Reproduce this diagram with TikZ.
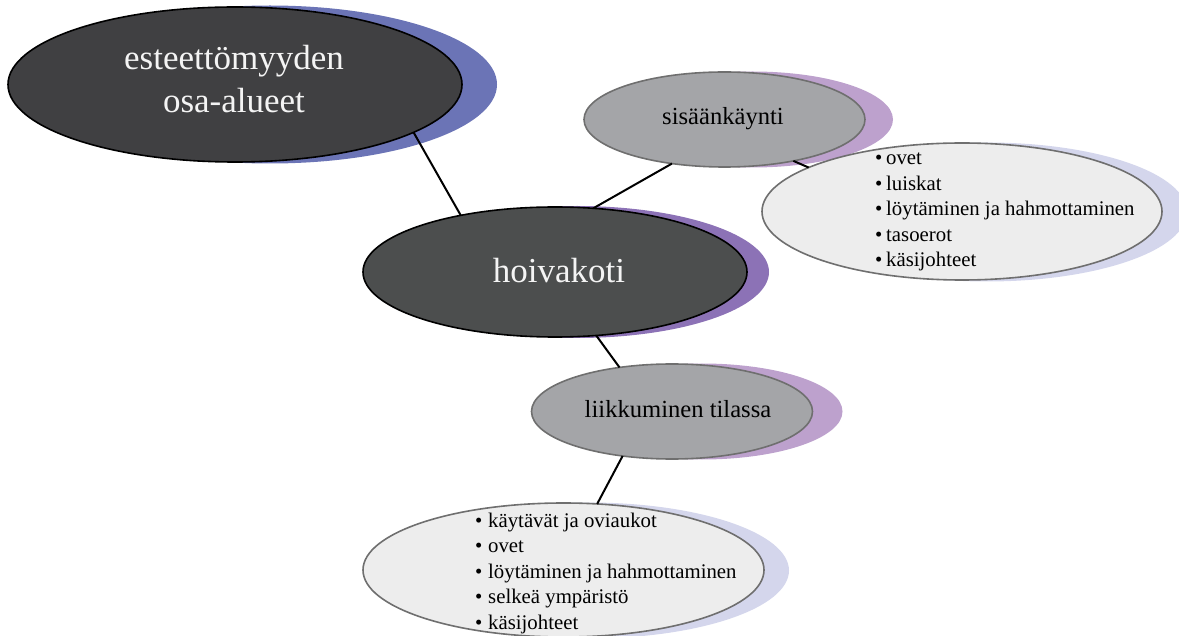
\documentclass[tikz,border=0pt]{standalone}
\usepackage{fontspec}
\setmainfont{Liberation Serif}
\usetikzlibrary{shapes.geometric}
\definecolor{darkA}{HTML}{404042}
\definecolor{darkB}{HTML}{4C4E4E}
\definecolor{midgrey}{HTML}{A4A5A8}
\definecolor{lightgrey}{HTML}{EDEDED}
\definecolor{bordergrey}{HTML}{6F6F6F}
\definecolor{blueS}{HTML}{6B74B6}
\definecolor{purpleS}{HTML}{8C72B6}
\definecolor{lilacS}{HTML}{BDA1CD}
\definecolor{paleS}{HTML}{D4D6EC}
\definecolor{whitetext}{HTML}{F4F4F4}
\begin{document}
\begin{tikzpicture}[x=1pt,y=-1pt,
  ell/.style={ellipse, inner sep=0pt, outer sep=0pt},
  shad/.style={ell, draw=none},
  darkell/.style={ell, draw=black, line width=1.6pt},
  greyell/.style={ell, draw=bordergrey, line width=1.6pt, fill=midgrey},
  lightell/.style={ell, draw=bordergrey, line width=1.6pt, fill=lightgrey},
  conn/.style={draw=black, line width=2pt},
  bigtext/.style={anchor=base, inner sep=0pt, text=whitetext, font=\fontsize{35}{43}\selectfont, align=center},
  midtext/.style={anchor=base, inner sep=0pt, text=black, font=\fontsize{24.6}{30}\selectfont},
  listtext/.style={anchor=base west, inner sep=0pt, text=black, font=\fontsize{20.8}{25.5}\selectfont, align=left}
]
\useasboundingbox (0,0) rectangle (1179,636);
% shadows
\node[shad, fill=blueS, minimum width=454pt, minimum height=158pt] (topS) at (270,84.5) {};
\node[shad, fill=purpleS, minimum width=384pt, minimum height=132pt] (hoivS) at (577,272) {};
\node[shad, fill=lilacS, minimum width=281pt, minimum height=96pt] (sisS) at (752.5,119.5) {};
\node[shad, fill=paleS, minimum width=400pt, minimum height=139pt] (bulAS) at (987,212) {};
\node[shad, fill=lilacS, minimum width=281pt, minimum height=96pt] (liikS) at (702,411.5) {};
\node[shad, fill=paleS, minimum width=401pt, minimum height=136pt] (bulBS) at (588.5,570.5) {};
% main ellipses
\node[darkell, fill=darkA, minimum width=454pt, minimum height=155pt] (top) at (235,84.5) {};
\node[darkell, fill=darkB, minimum width=384pt, minimum height=130pt] (hoiv) at (555,272) {};
\node[greyell, minimum width=281pt, minimum height=95pt] (sis) at (724.5,119.5) {};
\node[lightell, minimum width=400pt, minimum height=137pt] (bulA) at (962,211.5) {};
\node[greyell, minimum width=281pt, minimum height=95pt] (liik) at (672,411.5) {};
\node[lightell, minimum width=401pt, minimum height=134pt] (bulB) at (563.5,570) {};
% connectors
\draw[conn] (top.-15) -- (hoiv.149);
\draw[conn] (hoiv.59) -- (sis.220);
\draw[conn] (sis.-31) -- (bulA.164);
\draw[conn] (hoiv.-57) -- (liik.140);
\draw[conn] (liik.222) -- (bulB.63);
% texts (anchor base = baseline of the last line)
\node[bigtext] (topT) at (234,113) {esteettömyyden\\osa-alueet};
\node[bigtext] (hoivT) at (559,283) {hoivakoti};
\node[midtext] (sisT) at (723,125) {sisäänkäynti};
\node[midtext] (liikT) at (678,418) {liikkuminen tilassa};
\node[listtext] (bulAT) at (875,267) {\makebox[11pt][l]{\textbullet}ovet\\\makebox[11pt][l]{\textbullet}luiskat\\\makebox[11pt][l]{\textbullet}löytäminen ja hahmottaminen\\\makebox[11pt][l]{\textbullet}tasoerot\\\makebox[11pt][l]{\textbullet}käsijohteet};
\node[listtext] (bulBT) at (475,629) {\makebox[13pt][l]{\textbullet}käytävät ja oviaukot\\\makebox[13pt][l]{\textbullet}ovet\\\makebox[13pt][l]{\textbullet}löytäminen ja hahmottaminen\\\makebox[13pt][l]{\textbullet}selkeä ympäristö\\\makebox[13pt][l]{\textbullet}käsijohteet};
\end{tikzpicture}
\end{document}
